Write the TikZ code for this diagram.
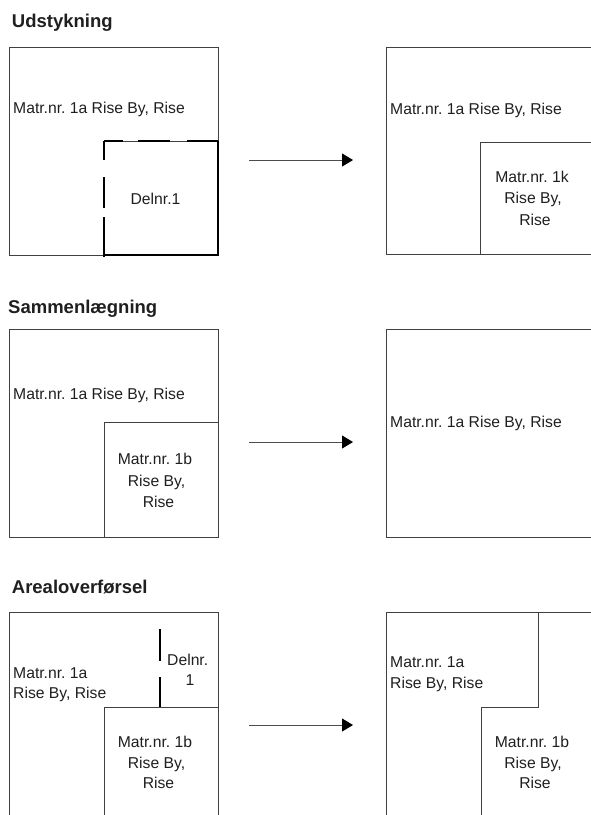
\documentclass[tikz,border=0pt]{standalone}
\usepackage{fontspec}
\setmainfont{Liberation Sans}
\usetikzlibrary{arrows.meta}
\frenchspacing

\begin{document}
\begin{tikzpicture}[x=1pt,y=-1pt,
  parcel/.style={draw=black!75, line width=0.9pt},
  boundary/.style={draw=black, line width=2pt},
  txt/.style={font=\fontsize{15.7}{18}\selectfont, inner sep=0pt, text=black!88},
  txtw/.style={txt, anchor=base west},
  txtc/.style={txt, anchor=base},
  heading/.style={font=\fontsize{18.5}{22}\selectfont\bfseries, inner sep=0pt, anchor=base west, text=black!88},
  flow/.style={draw=black!70, line width=0.9pt, -{Triangle[length=11pt,width=13pt,color=black]}}
]
\useasboundingbox (0,0) rectangle (590,815);

% ---------- Udstykning ----------
\node[heading] (h1) at (11.7,27.5) {Udstykning};
\draw[parcel] (9,47) rectangle (218,255);
\draw[parcel] (104,141) -- (218,141);
\draw[boundary, dash pattern=on 19pt off 15pt on 32pt off 17pt on 40pt] (104,141) -- (218,141);
\draw[boundary, dash pattern=on 19pt off 17pt on 31pt off 9pt on 50pt] (104,141) -- (104,257);
\draw[boundary] (104,255) -- (218,255) -- (218,141);
\node[txtw] (m1a) at (13,113) {Matr.nr. 1a Rise By, Rise};
\node[txtc] (d1) at (155.5,204) {Delnr.1};

\coordinate (a1s) at (249,160);
\coordinate (a1e) at (353,160);
\draw[flow] (a1s) -- (a1e);

\draw[parcel] (386,47) rectangle (600,254);
\draw[parcel] (480,254) -- (480,142) -- (600,142);
\node[txtw] (r1a) at (390,114) {Matr.nr. 1a Rise By, Rise};
\node[txtc] (r1k1) at (532,182) {Matr.nr. 1k};
\node[txtc] (r1k2) at (533,203.5) {Rise By,};
\node[txtc] (r1k3) at (535,225) {Rise};

% ---------- Sammenlaegning ----------
\node[heading] (h2) at (8,313) {Sammenlægning};
\draw[parcel] (9,329) rectangle (218,537);
\draw[parcel] (104,537) -- (104,422) -- (218,422);
\node[txtw] (m2a) at (13,399) {Matr.nr. 1a Rise By, Rise};
\node[txtc] (m2b1) at (155,464) {Matr.nr. 1b};
\node[txtc] (m2b2) at (156.5,486) {Rise By,};
\node[txtc] (m2b3) at (158.5,507) {Rise};

\coordinate (a2s) at (249,442);
\coordinate (a2e) at (353,442);
\draw[flow] (a2s) -- (a2e);

\draw[parcel] (386,329) rectangle (600,537);
\node[txtw] (r2a) at (390,427) {Matr.nr. 1a Rise By, Rise};

% ---------- Arealoverfoersel ----------
\node[heading] (h3) at (11.7,593) {Arealoverførsel};
\draw[parcel] (9,820) -- (9,612) -- (218,612) -- (218,820);
\draw[parcel] (104,820) -- (104,707) -- (218,707);
\draw[boundary, line width=1.8pt] (160,629) -- (160,661);
\draw[boundary, line width=1.8pt] (160,677) -- (160,707);
\node[txtw] (m3a1) at (13,678) {Matr.nr. 1a};
\node[txtw] (m3a2) at (13,698) {Rise By, Rise};
\node[txtw] (d3a) at (167,665) {Delnr.};
\node[txtc] (d3b) at (190,685) {1};
\node[txtc] (m3b1) at (155,747) {Matr.nr. 1b};
\node[txtc] (m3b2) at (156.5,768) {Rise By,};
\node[txtc] (m3b3) at (158.5,788) {Rise};

\coordinate (a3s) at (249,725);
\coordinate (a3e) at (353,725);
\draw[flow] (a3s) -- (a3e);

\draw[parcel] (386,820) -- (386,612) -- (600,612);
\draw[parcel] (538,612) -- (538,707) -- (481,707) -- (481,820);
\node[txtw] (r3a1) at (390,667) {Matr.nr. 1a};
\node[txtw] (r3a2) at (390,688) {Rise By, Rise};
\node[txtc] (r3b1) at (532,747) {Matr.nr. 1b};
\node[txtc] (r3b2) at (533,768) {Rise By,};
\node[txtc] (r3b3) at (535,788) {Rise};
\end{tikzpicture}
\end{document}
